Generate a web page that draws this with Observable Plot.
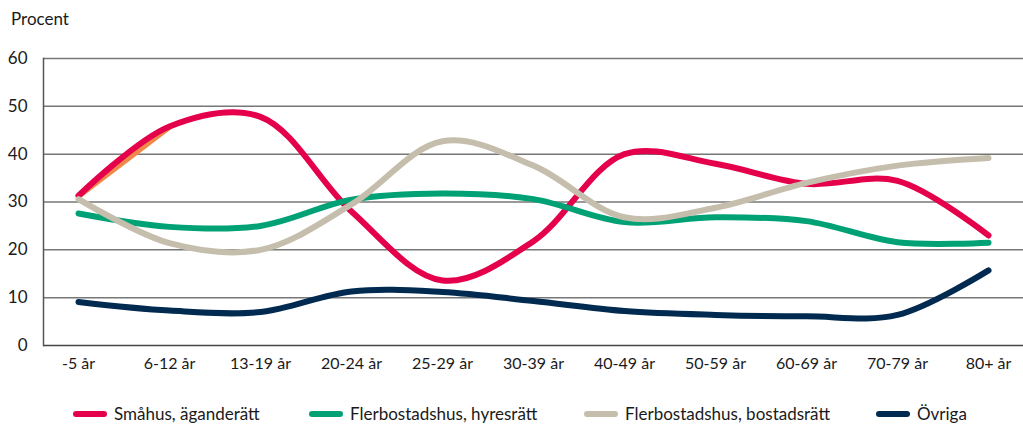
<!DOCTYPE html>
<html>
<head>
<meta charset="utf-8">
<script src="https://cdn.jsdelivr.net/npm/d3@7"></script>
<script src="https://cdn.jsdelivr.net/npm/@observablehq/plot@0.6"></script>
<style>
  body { margin: 0; background: #fff; font-family: Lato, "Noto Sans", sans-serif; color: #1a1a1a; }
  #wrap { position: relative; width: 1023px; height: 425px; overflow: hidden; }
  #title { position: absolute; left: 11px; top: 8px; font-size: 17px; }
  #chart { position: absolute; left: 0; top: 30px; }
  #legend { position: absolute; left: 0; top: 404px; width: 1023px; height: 21px; font-size: 17px; line-height: 19px; }
  .item { position: absolute; top: 0; display: flex; align-items: center; white-space: nowrap; }
  .sw { width: 34px; height: 6px; border-radius: 3px; margin-right: 7px; }
</style>
</head>
<body>
<div id="wrap">
  <div id="title">Procent</div>
  <div id="chart"></div>
  <div id="legend"></div>
</div>
<script>
const categories = ["-5 år","6-12 år","13-19 år","20-24 år","25-29 år","30-39 år","40-49 år","50-59 år","60-69 år","70-79 år","80+ år"];
const seriesNames = ["Småhus, äganderätt","Flerbostadshus, hyresrätt","Flerbostadshus, bostadsrätt","Övriga"];
const smahus    = [31.3, 45.8, 47.8, 28.0, 13.6, 21.8, 40.0, 38.0, 33.8, 34.4, 23.0];
const hyresratt = [27.6, 24.8, 25.0, 30.5, 31.8, 30.6, 25.8, 26.8, 26.0, 21.6, 21.5];
const bostadsratt = [30.6, 21.4, 20.0, 29.5, 42.7, 37.6, 26.8, 28.8, 34.0, 37.6, 39.2];
const ovriga    = [9.1, 7.3, 7.0, 11.3, 11.2, 9.3, 7.2, 6.4, 6.1, 6.4, 15.7];
const yTicks = [0, 10, 20, 30, 40, 50, 60];
const colors = ["#e4004b", "#00a174", "#c6beac", "#002a50"];

const values = [smahus, hyresratt, bostadsratt, ovriga];
const data = [];
values.forEach((vals, si) => vals.forEach((v, i) => data.push({serie: seriesNames[si], cat: categories[i], value: v})));
const orangeData = data.filter(d => d.serie === seriesNames[0] && (d.cat === categories[0] || d.cat === categories[1]));

const chart = Plot.plot({
  width: 1023,
  height: 360,
  marginLeft: 43,
  marginRight: 0,
  marginTop: 28,
  marginBottom: 45,
  style: {fontFamily: "Lato, 'Noto Sans', sans-serif", fontSize: "16px", color: "#1a1a1a", background: "transparent"},
  x: {type: "point", domain: categories, padding: 0.37, label: null},
  y: {domain: [0, 60], label: null},
  color: {domain: seriesNames, range: colors},
  marks: [
    Plot.ruleY(yTicks.filter(t => t > 0), {stroke: "#777", strokeWidth: 1.5, strokeOpacity: 1}),
    Plot.ruleY([0], {stroke: "#444", strokeWidth: 1.5}),
    Plot.frame({anchor: "left", stroke: "#555", strokeWidth: 1.5}),
    Plot.axisY({ticks: yTicks, tickSize: 0, tickPadding: 16, tickFormat: d => d, fontSize: 17}),
    Plot.axisX({tickSize: 0, tickPadding: 12, fontSize: 16}),
    Plot.line(orangeData, {x: "cat", y: "value", stroke: "#f0884a", strokeWidth: 5, curve: "catmull-rom", dx: 0.4, dy: 0.6, strokeLinecap: "butt"}),
    Plot.line(data, {x: "cat", y: "value", z: "serie", stroke: "serie", strokeWidth: 6, curve: "catmull-rom", strokeLinecap: "round", strokeLinejoin: "round"})
  ]
});
document.getElementById("chart").appendChild(chart);

const lx = [73, 309, 584, 876];
const legend = document.getElementById("legend");
seriesNames.forEach((name, i) => {
  const it = document.createElement("div");
  it.className = "item";
  it.style.left = lx[i] + "px";
  const sw = document.createElement("div");
  sw.className = "sw";
  sw.style.background = colors[i];
  const t = document.createElement("span");
  t.textContent = name;
  it.appendChild(sw); it.appendChild(t);
  legend.appendChild(it);
});
</script>
</body>
</html>
